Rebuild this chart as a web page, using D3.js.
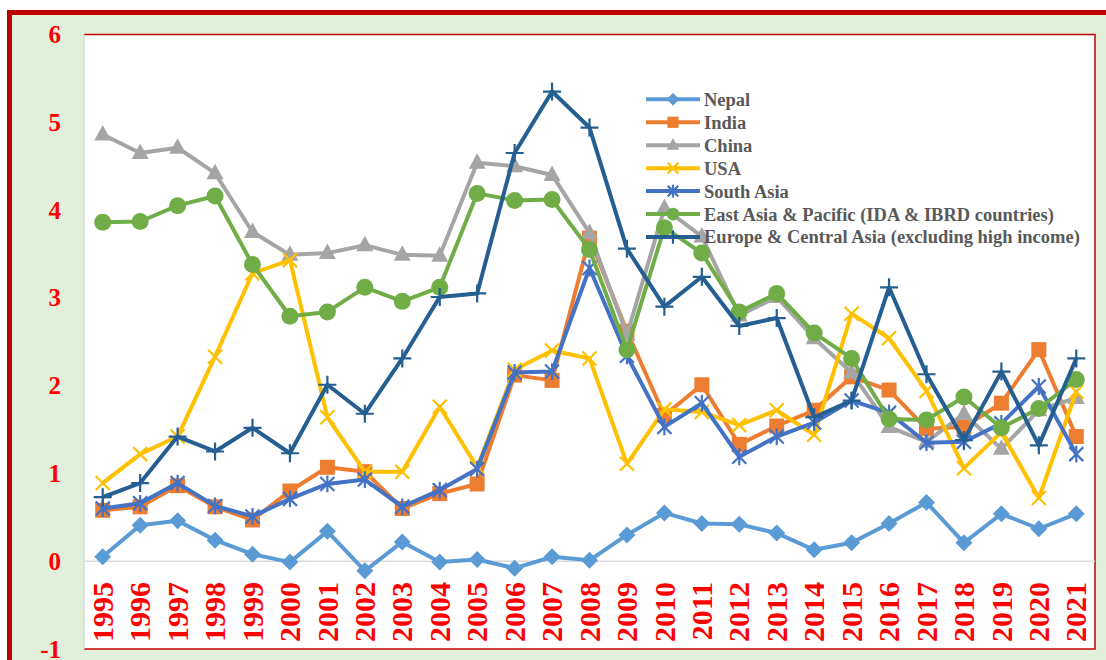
<!DOCTYPE html>
<html>
<head>
<meta charset="utf-8">
<script src="https://cdn.jsdelivr.net/npm/d3@7"></script>
<style>
  body { margin: 0; background: #ffffff; }
  svg { display: block; }
  text { font-family: "Liberation Serif", "Times New Roman", serif; font-weight: bold; }
</style>
</head>
<body>
<div id="chart"></div>
<script>
// Data
const years = d3.range(1995, 2022);
const yTicks = [-1, 0, 1, 2, 3, 4, 5, 6];

const nepal = [0.05, 0.41, 0.46, 0.24, 0.08, -0.01, 0.34, -0.11, 0.22, -0.01, 0.02, -0.08, 0.05, 0.01, 0.30, 0.55, 0.43, 0.42, 0.32, 0.13, 0.21, 0.43, 0.67, 0.21, 0.54, 0.37, 0.54];
const india = [0.58, 0.62, 0.86, 0.62, 0.47, 0.80, 1.07, 1.02, 0.60, 0.77, 0.88, 2.12, 2.06, 3.68, 2.62, 1.66, 2.01, 1.33, 1.54, 1.72, 2.10, 1.95, 1.51, 1.53, 1.80, 2.41, 1.42];
const china = [4.86, 4.65, 4.71, 4.42, 3.75, 3.49, 3.51, 3.60, 3.49, 3.48, 4.54, 4.50, 4.40, 3.74, 2.58, 4.02, 3.70, 2.80, 3.01, 2.54, 2.15, 1.53, 1.36, 1.68, 1.28, 1.72, 1.86];
const usa = [0.89, 1.22, 1.42, 2.33, 3.28, 3.43, 1.64, 1.02, 1.02, 1.76, 1.07, 2.18, 2.40, 2.31, 1.11, 1.73, 1.70, 1.55, 1.72, 1.44, 2.82, 2.54, 1.94, 1.06, 1.47, 0.72, 1.93];
const southAsia = [0.60, 0.66, 0.89, 0.63, 0.51, 0.71, 0.88, 0.93, 0.62, 0.81, 1.05, 2.15, 2.16, 3.34, 2.34, 1.53, 1.80, 1.19, 1.42, 1.58, 1.83, 1.69, 1.35, 1.36, 1.57, 1.99, 1.22];
const eastAsia = [3.86, 3.87, 4.05, 4.16, 3.38, 2.79, 2.84, 3.12, 2.96, 3.12, 4.19, 4.11, 4.12, 3.55, 2.41, 3.80, 3.51, 2.84, 3.05, 2.60, 2.31, 1.62, 1.61, 1.87, 1.52, 1.74, 2.07];
const europe = [0.73, 0.89, 1.42, 1.25, 1.52, 1.23, 2.01, 1.68, 2.31, 3.01, 3.05, 4.65, 5.35, 4.94, 3.56, 2.90, 3.24, 2.68, 2.77, 1.64, 1.83, 3.12, 2.13, 1.38, 2.16, 1.32, 2.31];

const series = [
    { name: "Nepal", values: nepal, color: "#5B9BD5", marker: "diamond" },
    { name: "India", values: india, color: "#ED7D31", marker: "square" },
    { name: "China", values: china, color: "#A5A5A5", marker: "triangle" },
    { name: "USA", values: usa, color: "#FFC000", marker: "x" },
    { name: "South Asia", values: southAsia, color: "#4472C4", marker: "star" },
    { name: "East Asia & Pacific (IDA & IBRD countries)", values: eastAsia, color: "#70AD47", marker: "circle" },
    { name: "Europe & Central Asia (excluding high income)", values: europe, color: "#255E91", marker: "plus" }
];

const width = 1106;
const height = 660;
const plot = { left: 84, right: 1095, top: 34.5, bottom: 649 };

const svg = d3.select("#chart")
    .append("svg")
    .attr("width", width)
    .attr("height", height);

// Frame: green panel with thick red border
svg.append("rect")
    .attr("x", 9.5)
    .attr("y", 12.5)
    .attr("width", width + 20)
    .attr("height", height + 20)
    .attr("fill", "#E2EFDA")
    .attr("stroke", "#C00000")
    .attr("stroke-width", 5);

// Plot area
svg.append("rect")
    .attr("x", plot.left)
    .attr("y", plot.top)
    .attr("width", plot.right - plot.left)
    .attr("height", plot.bottom - plot.top)
    .attr("fill", "#ffffff");

const x = d3.scaleBand()
    .domain(years)
    .range([plot.left, plot.right]);

const y = d3.scaleLinear()
    .domain([-1, 6])
    .range([plot.bottom, plot.top]);

const cx = d => x(d) + x.bandwidth() / 2;

// Plot border: red top/right/bottom, grey left
svg.append("path")
    .attr("d", `M${plot.left},${plot.top}H${plot.right}V${plot.bottom}H${plot.left}`)
    .attr("fill", "none")
    .attr("stroke", "#C00000")
    .attr("stroke-width", 1.5);

svg.append("line")
    .attr("x1", plot.left)
    .attr("x2", plot.left)
    .attr("y1", plot.top)
    .attr("y2", plot.bottom)
    .attr("stroke", "#D9D9D9")
    .attr("stroke-width", 1.5);

// Zero line
svg.append("line")
    .attr("x1", plot.left)
    .attr("x2", plot.right)
    .attr("y1", y(0))
    .attr("y2", y(0))
    .attr("stroke", "#D9D9D9")
    .attr("stroke-width", 1.5);

// Y axis labels (plain hyphen for the minus, no decimals)
const yAxis = svg.append("g")
    .attr("transform", `translate(${plot.left - 23},0)`)
    .call(d3.axisLeft(y).tickValues(yTicks).tickSize(0).tickPadding(0).tickFormat(d => String(d)));
yAxis.select(".domain").remove();
yAxis.selectAll("text")
    .attr("fill", "#FF0000")
    .style("font-size", "25px")
    .style("font-family", "'Liberation Serif', 'Times New Roman', serif")
    .style("font-weight", "bold");

// X axis labels, rotated, below the zero line
svg.append("g")
    .selectAll("text")
    .data(years)
    .join("text")
    .attr("transform", d => `translate(${cx(d)},582) rotate(-90)`)
    .attr("text-anchor", "end")
    .attr("dy", "0.34em")
    .attr("fill", "#FF0000")
    .style("font-size", "30px")
    .text(d => d);

// Marker shapes
function drawMarker(g, type, color, k) {
    if (type === "diamond") {
        const h = 8.5 * k;
        g.append("path").attr("d", `M0,${-h}L${h},0L0,${h}L${-h},0Z`).attr("fill", color);
    } else if (type === "square") {
        const h = 7.5 * k;
        g.append("rect").attr("x", -h).attr("y", -h).attr("width", 2 * h).attr("height", 2 * h).attr("fill", color);
    } else if (type === "triangle") {
        g.append("path").attr("d", `M0,${-9.5 * k}L${8.5 * k},${6 * k}L${-8.5 * k},${6 * k}Z`).attr("fill", color);
    } else if (type === "circle") {
        g.append("circle").attr("r", 8.5 * k).attr("fill", color);
    } else {
        const h = 7 * k;
        let d = "";
        if (type === "x" || type === "star") d += `M${-h},${-h}L${h},${h}M${-h},${h}L${h},${-h}`;
        if (type === "star") d += `M0,${-h * 1.2}V${h * 1.2}`;
        if (type === "plus") d = `M${-9 * k},0H${9 * k}M0,${-9 * k}V${9 * k}`;
        g.append("path").attr("d", d).attr("fill", "none").attr("stroke", color).attr("stroke-width", 2.2);
    }
}

const line = d3.line()
    .x((d, i) => cx(years[i]))
    .y(d => y(d));

// Series lines and markers
series.forEach(s => {
    const g = svg.append("g");
    g.append("path")
        .attr("d", line(s.values))
        .attr("fill", "none")
        .attr("stroke", s.color)
        .attr("stroke-width", 4)
        .attr("stroke-linejoin", "round");
    s.values.forEach((v, i) => {
        const m = g.append("g").attr("transform", `translate(${cx(years[i])},${y(v)})`);
        drawMarker(m, s.marker, s.color, 1);
    });
});

// Legend
const legend = svg.append("g").attr("transform", "translate(646,99.3)");
series.forEach((s, i) => {
    const row = legend.append("g").attr("transform", `translate(0,${i * 22.95})`);
    row.append("line")
        .attr("x1", 0)
        .attr("x2", 54)
        .attr("stroke", s.color)
        .attr("stroke-width", 4);
    const m = row.append("g").attr("transform", "translate(27,0)");
    drawMarker(m, s.marker, s.color, 0.75);
    row.append("text")
        .attr("x", 58)
        .attr("dy", "0.35em")
        .attr("fill", "#595959")
        .style("font-size", "18.5px")
        .text(s.name);
});
</script>
</body>
</html>
